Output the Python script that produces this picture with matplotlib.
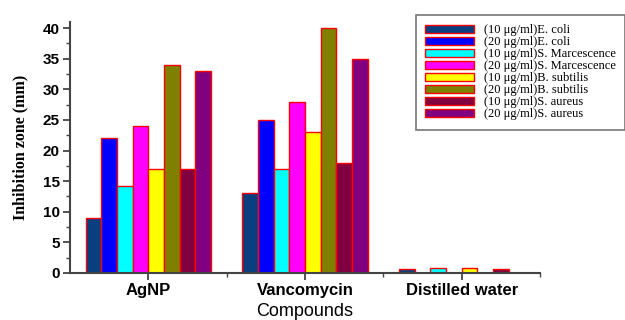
import numpy as np
import matplotlib
matplotlib.use("Agg")
import matplotlib.pyplot as plt
from matplotlib.ticker import MultipleLocator, FixedLocator

compounds = ["AgNP", "Vancomycin", "Distilled water"]
series = [
    "(10 μg/ml)E. coli",
    "(20 μg/ml)E. coli",
    "(10 μg/ml)S. Marcescence",
    "(20 μg/ml)S. Marcescence",
    "(10 μg/ml)B. subtilis",
    "(20 μg/ml)B. subtilis",
    "(10 μg/ml)S. aureus",
    "(20 μg/ml)S. aureus",
]
ecoli_10 = [9, 13, 0.6]
ecoli_20 = [22, 25, 0]
smarc_10 = [14.2, 17, 0.8]
smarc_20 = [24, 28, 0]
bsub_10 = [17, 23, 0.8]
bsub_20 = [34, 40, 0]
saur_10 = [17, 18, 0.6]
saur_20 = [33, 35, 0]
values = [ecoli_10, ecoli_20, smarc_10, smarc_20, bsub_10, bsub_20, saur_10, saur_20]
colors = ["#0a3f7f", "#0000ff", "#00ffff", "#ff00ff",
          "#ffff00", "#808000", "#800040", "#800080"]

fig = plt.figure(figsize=(6.25, 3.2), dpi=100)
ax = fig.add_axes([0.112, 0.147, 0.752, 0.784])

x = np.arange(len(compounds))
w = 0.1
for i, (vals, col, lab) in enumerate(zip(values, colors, series)):
    ax.bar(x + (i - 3.5) * w, vals, width=w, color=col, edgecolor="#ff0000",
           linewidth=1.0, label=lab)

ax.set_xlim(-0.5, 2.5)
ax.set_ylim(0, 41)
for s in ["top", "right"]:
    ax.spines[s].set_visible(False)
for s in ["left", "bottom"]:
    ax.spines[s].set_color("#444444")
    ax.spines[s].set_linewidth(1.5)

ax.yaxis.set_major_locator(MultipleLocator(5))
ax.yaxis.set_minor_locator(MultipleLocator(2.5))
ax.set_xticks(x)
ax.set_xticklabels(compounds, fontfamily="Liberation Sans", fontweight="bold", fontsize=12)
ax.xaxis.set_minor_locator(FixedLocator([0.5, 1.5, 2.5]))
ax.tick_params(axis="both", which="major", direction="out", length=5, width=1.3,
               color="#444444", pad=2.5)
ax.tick_params(axis="both", which="minor", direction="out", length=3, width=1.0,
               color="#444444")
for lbl in ax.get_yticklabels():
    lbl.set_fontfamily("Liberation Sans")
    lbl.set_fontweight("bold")
    lbl.set_fontsize(11)

ax.set_ylabel("Inhibition zone (mm)", fontfamily="Liberation Serif", fontweight="bold",
              fontsize=11.5, labelpad=10)
ax.set_xlabel("Compounds", fontfamily="Liberation Sans", fontsize=13, labelpad=3)

leg = ax.legend(loc="upper left", bbox_to_anchor=(416 / 625, 1 - 15 / 320),
                bbox_transform=fig.transFigure, prop={"family": "Liberation Serif", "size": 9},
                fancybox=False, frameon=True, labelspacing=0.0, handlelength=3.9,
                handleheight=0.65, handletextpad=0.8, borderpad=0.75, borderaxespad=0)
leg.get_frame().set_edgecolor("#555555")
leg.get_frame().set_linewidth(1.2)

fig.savefig("out.png", dpi=100)
